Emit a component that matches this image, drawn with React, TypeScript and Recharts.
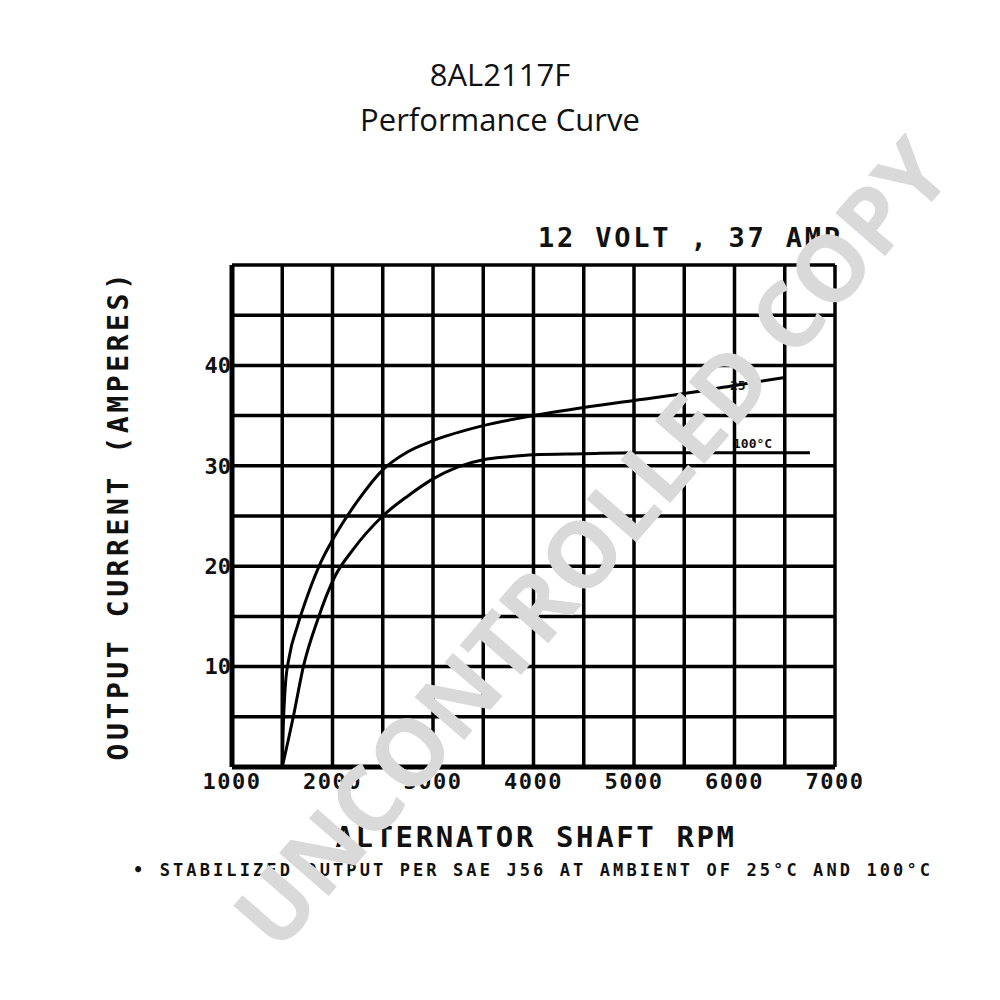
import { LineChart, Line, XAxis, YAxis, CartesianGrid } from 'recharts';

// axis ticks (grid every 500 rpm / 5 A, labels every 1000 rpm / 10 A)
const RPM_TICKS = [1000, 1500, 2000, 2500, 3000, 3500, 4000, 4500, 5000, 5500, 6000, 6500, 7000];
const AMP_TICKS = [0, 5, 10, 15, 20, 25, 30, 35, 40, 45, 50];
const RPM_LABELS = [1000, 2000, 3000, 4000, 5000, 6000, 7000];
const AMP_LABELS = [10, 20, 30, 40];

// 25°C curve
const RPM_25 = [1500, 1510, 1530, 1570, 1650, 1760, 1880, 2000, 2250, 2500, 2750, 3000, 3500, 4000, 4500, 5000, 5500, 6000, 6500];
const AMP_25 = [0, 4, 8, 11, 14, 17.3, 20.3, 22.6, 26.5, 29.6, 31.4, 32.5, 34, 35, 35.8, 36.5, 37.2, 38, 38.8];

// 100°C curve
const RPM_100 = [1500, 1610, 1710, 1850, 2025, 2200, 2500, 2750, 3000, 3250, 3500, 3750, 4000, 4500, 5000, 5500, 6000, 6750];
const AMP_100 = [0, 5, 10, 14.6, 19, 21.6, 25, 27, 28.7, 29.9, 30.6, 30.9, 31.1, 31.2, 31.3, 31.3, 31.3, 31.3];

const hot = RPM_25.map((r, i) => ({ rpm: r, amp: AMP_25[i] }));
const warm = RPM_100.map((r, i) => ({ rpm: r, amp: AMP_100[i] }));

const MONO = '"DejaVu Sans Mono", monospace';
const abs = { position: 'absolute' as const, margin: 0, whiteSpace: 'nowrap' as const };

export default function App() {
  return (
    <div style={{ position: 'absolute', left: 0, top: 0, width: 1000, height: 1000, background: '#fff', overflow: 'hidden' }}>
      <div style={{ ...abs, left: 0, width: 1000, top: 52, textAlign: 'center', fontFamily: '"Open Sans", sans-serif', fontSize: 31, lineHeight: '45px', color: '#111' }}>
        8AL2117F<br />Performance Curve
      </div>

      <div style={{ ...abs, left: 538, top: 222, fontFamily: MONO, fontWeight: 700, fontSize: 27, letterSpacing: 2.8, color: '#111' }}>
        12 VOLT , 37 AMP
      </div>

      <div style={{ position: 'absolute', left: 0, top: 0 }}>
        <LineChart width={1000} height={1000} data={hot} margin={{ top: 265, right: 165, bottom: 203, left: 172 }}>
          <CartesianGrid stroke="#000" strokeWidth={3.5} />
          <XAxis
            dataKey="rpm"
            type="number"
            domain={[1000, 7000]}
            ticks={RPM_TICKS}
            interval={0}
            height={30}
            tickSize={0}
            tickMargin={6}
            axisLine={{ stroke: '#000', strokeWidth: 5 }}
            tickFormatter={(v: number) => (RPM_LABELS.includes(v) ? String(v) : '')}
            tick={{ fill: '#111', fontSize: 22, fontFamily: MONO, fontWeight: 700, letterSpacing: 1.5 }}
          />
          <YAxis
            type="number"
            domain={[0, 50]}
            ticks={AMP_TICKS}
            interval={0}
            width={60}
            tickSize={0}
            tickMargin={1}
            axisLine={{ stroke: '#000', strokeWidth: 5 }}
            tickFormatter={(v: number) => (AMP_LABELS.includes(v) ? String(v) : '')}
            tick={{ fill: '#111', fontSize: 22, fontFamily: MONO, fontWeight: 700 }}
          />
          <Line data={hot} dataKey="amp" type="monotone" stroke="#000" strokeWidth={3} dot={false} isAnimationActive={false} />
          <Line data={warm} dataKey="amp" type="monotone" stroke="#000" strokeWidth={3} dot={false} isAnimationActive={false} />
        </LineChart>
      </div>

      <div style={{ ...abs, left: 730, top: 378, fontFamily: MONO, fontWeight: 700, fontSize: 13, color: '#111' }}>25°C</div>
      <div style={{ ...abs, left: 733, top: 436, fontFamily: MONO, fontWeight: 700, fontSize: 13, color: '#111' }}>100°C</div>

      <div
        style={{
          ...abs,
          left: 118,
          top: 515,
          transform: 'translate(-50%, -50%) rotate(-90deg)',
          fontFamily: MONO,
          fontWeight: 700,
          fontSize: 28,
          letterSpacing: 3.6,
          color: '#111',
        }}
      >
        OUTPUT CURRENT (AMPERES)
      </div>

      <div style={{ ...abs, left: 0, width: 1072, top: 820, textAlign: 'center', fontFamily: MONO, fontWeight: 700, fontSize: 29, letterSpacing: 2.6, color: '#111' }}>
        ALTERNATOR SHAFT RPM
      </div>
      <div style={{ ...abs, left: 133, top: 860, fontFamily: MONO, fontWeight: 700, fontSize: 17, letterSpacing: 3.1, color: '#111' }}>
        • STABILIZED OUTPUT PER SAE J56 AT AMBIENT OF 25°C AND 100°C
      </div>

      <div
        style={{
          ...abs,
          left: 590,
          top: 542,
          transform: 'translate(-50%, -50%) rotate(-49deg)',
          fontFamily: '"Open Sans", sans-serif',
          fontWeight: 700,
          fontSize: 92,
          color: '#d9d9d9',
          lineHeight: 1,
        }}
      >
        UNCONTROLLED COPY
      </div>
    </div>
  );
}
